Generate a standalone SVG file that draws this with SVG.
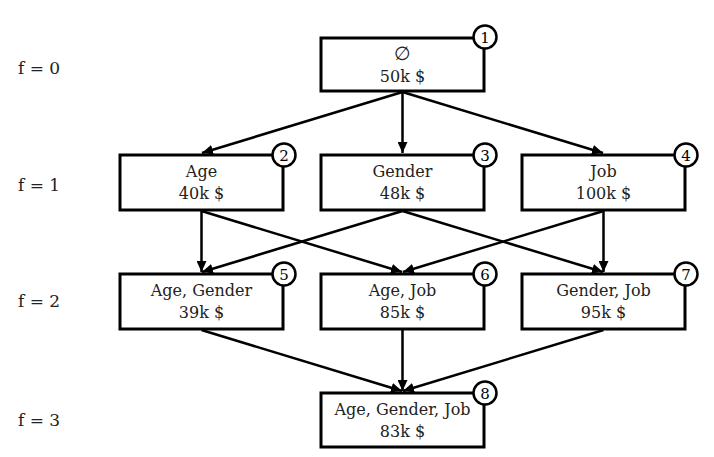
<svg xmlns="http://www.w3.org/2000/svg" width="714" height="457" viewBox="0 0 714 457">
<style>
.box{fill:#fff;stroke:#000;stroke-width:3}
.t{font-family:"DejaVu Serif",serif;font-size:16px;fill:#222;text-anchor:middle}
.lbl{font-family:"DejaVu Serif",serif;font-size:17px;fill:#222}
.badge{fill:#fff;stroke:#000;stroke-width:2.5}
.num{font-family:"DejaVu Serif",serif;font-size:15px;fill:#000;text-anchor:middle}
.e{stroke:#000;stroke-width:2.5;fill:none;marker-end:url(#ah)}
</style>
<defs>
<marker id="ah" markerUnits="userSpaceOnUse" markerWidth="12" markerHeight="10" refX="11" refY="5" orient="auto">
<path d="M0,0 L11,5 L0,10 z" fill="#000"/>
</marker>
</defs>
<rect width="714" height="457" fill="#fff"/>
<g id="labels">
<text class="lbl" x="18" y="74">f = 0</text>
<text class="lbl" x="18" y="191">f = 1</text>
<text class="lbl" x="18" y="307">f = 2</text>
<text class="lbl" x="18" y="426">f = 3</text>
</g>
<g id="connectors">
<line class="e" x1="402.5" y1="92" x2="202" y2="153"/>
<line class="e" x1="402.5" y1="92" x2="402.5" y2="153"/>
<line class="e" x1="402.5" y1="92" x2="603" y2="153"/>
<line class="e" x1="201.5" y1="211" x2="201.5" y2="272"/>
<line class="e" x1="201.5" y1="211" x2="402" y2="272"/>
<line class="e" x1="402.5" y1="211" x2="202" y2="272"/>
<line class="e" x1="402.5" y1="211" x2="603" y2="272"/>
<line class="e" x1="603.5" y1="211" x2="403" y2="272"/>
<line class="e" x1="603.5" y1="211" x2="603.5" y2="272"/>
<line class="e" x1="201.5" y1="330" x2="402" y2="391"/>
<line class="e" x1="402.5" y1="330" x2="402.5" y2="391"/>
<line class="e" x1="603.5" y1="330" x2="403" y2="391"/>
</g>
<g id="n1">
<rect class="box" x="321" y="38" width="163" height="53"/>
<text class="t" x="402.5" y="60" style="font-size:19px">∅</text>
<text class="t" x="402.5" y="82">50k $</text>
<circle class="badge" cx="485" cy="37" r="11.5"/>
<text class="num" x="485" y="42.5">1</text>
</g>
<g id="n2">
<rect class="box" x="120" y="155" width="163" height="55"/>
<text class="t" x="201.5" y="177">Age</text>
<text class="t" x="201.5" y="199">40k $</text>
<circle class="badge" cx="284" cy="155" r="11.5"/>
<text class="num" x="284" y="160.5">2</text>
</g>
<g id="n3">
<rect class="box" x="321" y="155" width="163" height="55"/>
<text class="t" x="402.5" y="177">Gender</text>
<text class="t" x="402.5" y="199">48k $</text>
<circle class="badge" cx="485" cy="155" r="11.5"/>
<text class="num" x="485" y="160.5">3</text>
</g>
<g id="n4">
<rect class="box" x="522" y="155" width="163" height="55"/>
<text class="t" x="603.5" y="177">Job</text>
<text class="t" x="603.5" y="199">100k $</text>
<circle class="badge" cx="686" cy="155" r="11.5"/>
<text class="num" x="686" y="160.5">4</text>
</g>
<g id="n5">
<rect class="box" x="120" y="274" width="163" height="55"/>
<text class="t" x="201.5" y="296">Age, Gender</text>
<text class="t" x="201.5" y="318">39k $</text>
<circle class="badge" cx="284" cy="274" r="11.5"/>
<text class="num" x="284" y="279.5">5</text>
</g>
<g id="n6">
<rect class="box" x="321" y="274" width="163" height="55"/>
<text class="t" x="402.5" y="296">Age, Job</text>
<text class="t" x="402.5" y="318">85k $</text>
<circle class="badge" cx="485" cy="274" r="11.5"/>
<text class="num" x="485" y="279.5">6</text>
</g>
<g id="n7">
<rect class="box" x="522" y="274" width="163" height="55"/>
<text class="t" x="603.5" y="296">Gender, Job</text>
<text class="t" x="603.5" y="318">95k $</text>
<circle class="badge" cx="686" cy="274" r="11.5"/>
<text class="num" x="686" y="279.5">7</text>
</g>
<g id="n8">
<rect class="box" x="321" y="393" width="163" height="54"/>
<text class="t" x="402.5" y="415">Age, Gender, Job</text>
<text class="t" x="402.5" y="437">83k $</text>
<circle class="badge" cx="485" cy="393" r="11.5"/>
<text class="num" x="485" y="398.5">8</text>
</g>
</svg>
